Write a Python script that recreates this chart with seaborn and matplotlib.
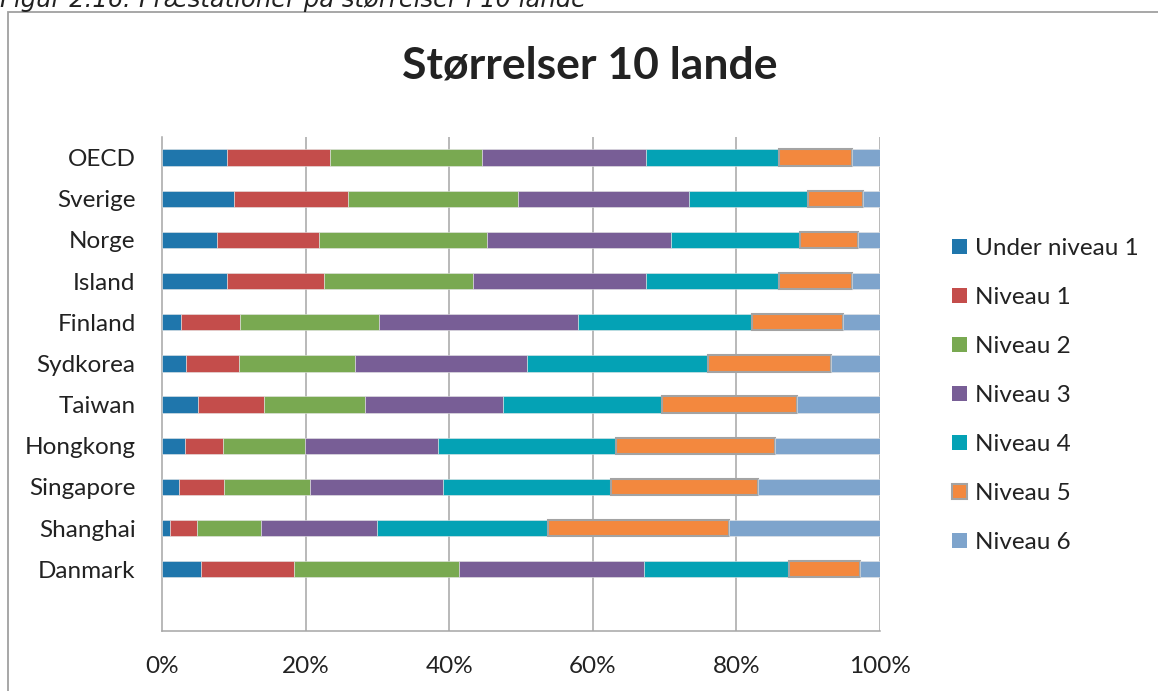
import matplotlib
matplotlib.use("Agg")
import matplotlib.pyplot as plt
from matplotlib.patches import Patch, Rectangle
import numpy as np
import pandas as pd
import seaborn as sns

countries = ["OECD", "Sverige", "Norge", "Island", "Finland", "Sydkorea",
             "Taiwan", "Hongkong", "Singapore", "Shanghai", "Danmark"]
levels = ["Under niveau 1", "Niveau 1", "Niveau 2", "Niveau 3",
          "Niveau 4", "Niveau 5", "Niveau 6"]

under1 = [9.1, 10.1, 7.6, 9.1, 2.7, 3.3, 5.0, 3.2, 2.3, 1.1, 5.4]
niv1 = [14.3, 15.9, 14.3, 13.4, 8.2, 7.4, 9.2, 5.3, 6.4, 3.8, 13.0]
niv2 = [21.2, 23.6, 23.4, 20.8, 19.3, 16.2, 14.1, 11.4, 11.9, 8.9, 23.0]
niv3 = [22.8, 23.9, 25.7, 24.1, 27.8, 23.9, 19.2, 18.6, 18.5, 16.2, 25.9]
niv4 = [18.5, 16.6, 18.0, 18.5, 24.3, 25.2, 22.2, 24.7, 23.4, 23.7, 20.2]
niv5 = [10.2, 7.6, 8.0, 10.2, 12.7, 17.1, 18.7, 22.2, 20.5, 25.3, 9.9]
niv6 = [3.9, 2.4, 3.1, 3.9, 5.1, 6.8, 11.6, 14.6, 17.0, 21.0, 2.8]

x_ticks = [0, 20, 40, 60, 80, 100]
x_tick_labels = ["0%", "20%", "40%", "60%", "80%", "100%"]

title = "Størrelser 10 lande"
caption = "Figur 2.16: Præstationer på størrelser i 10 lande"

colors = ["#1F76AC", "#C44D4B", "#79A951", "#785E96", "#04A2B5", "#F3883E", "#7EA4CC"]

series = [under1, niv1, niv2, niv3, niv4, niv5, niv6]
rows = []
for lvl, vals in zip(levels, series):
    for c, v in zip(countries, vals):
        rows.append({"country": c, "level": lvl, "value": v})
df = pd.DataFrame(rows)
totals = df.groupby("country")["value"].transform("sum")
df["pct"] = df["value"] / totals * 100
df["country"] = pd.Categorical(df["country"], categories=countries, ordered=True)
df = df.sort_values(["level", "country"])
df["left"] = 0.0
for c in countries:
    m = df["country"] == c
    sub = df[m].copy()
    sub["lvl_i"] = sub["level"].map({l: i for i, l in enumerate(levels)})
    sub = sub.sort_values("lvl_i")
    sub["left"] = sub["pct"].cumsum() - sub["pct"]
    df.loc[sub.index, "left"] = sub["left"]

sns.set_theme(style="white")
font_list = ["Lato", "DejaVu Sans"]
plt.rcParams["font.family"] = font_list

fs = 17.5
fig = plt.figure(figsize=(11.58, 6.91), dpi=100)
ax = fig.add_axes([162 / 1158, 1 - 631 / 691, (880 - 162) / 1158, (631 - 137) / 691])

grid_c = "#A6A6A6"
for xv in x_ticks[1:]:
    ax.axvline(xv, color=grid_c, lw=1.1, zorder=0)

for i, lvl in enumerate(levels):
    sub = df[df["level"] == lvl].sort_values("country")
    if lvl == "Niveau 5":
        ec, lw = "#A3A3A3", 1.5
    else:
        ec, lw = "#E6E6E6", 0.4
    sns.barplot(data=sub, x="pct", y="country", order=countries, orient="y",
                left=sub["left"].to_numpy(), color=colors[i], width=0.4,
                edgecolor=ec, linewidth=lw, saturation=1, ax=ax, zorder=3,
                errorbar=None)

ax.set_xlim(0, 100)
ax.set_ylim(len(countries) + 0.5, -0.5)
ax.set_xticks(x_ticks)
ax.set_xticklabels(x_tick_labels, fontsize=fs, color="#222222")
ax.set_yticks(range(len(countries)))
ax.set_yticklabels(countries, fontsize=fs, color="#222222")
ax.set_yticks(np.arange(-0.5, len(countries) + 1, 1), minor=True)
ax.tick_params(axis="y", which="major", length=0, pad=19)
ax.tick_params(axis="y", which="minor", length=7, width=1.1, color=grid_c, direction="out")
ax.tick_params(axis="x", which="major", length=7, width=1.1, color=grid_c, direction="out", pad=11)
ax.set_xlabel("")
ax.set_ylabel("")
for s in ["top", "right"]:
    ax.spines[s].set_visible(False)
for s in ["left", "bottom"]:
    ax.spines[s].set_color(grid_c)
    ax.spines[s].set_linewidth(1.1)

handles = []
for i, lvl in enumerate(levels):
    if lvl == "Niveau 5":
        handles.append(Patch(facecolor=colors[i], edgecolor="#A3A3A3", linewidth=1.5, label=lvl))
    else:
        handles.append(Patch(facecolor=colors[i], edgecolor="none", label=lvl))
leg = fig.legend(handles=handles, loc="center left",
                 bbox_to_anchor=(952 / 1158, 1 - 395.5 / 691),
                 frameon=False, fontsize=fs, handlelength=0.6, handleheight=0.6,
                 handletextpad=0.35, labelspacing=1.15, borderpad=0, borderaxespad=0)
for t in leg.get_texts():
    t.set_color("#222222")

fig.text(590 / 1158, 1 - 65 / 691, title, ha="center", va="center",
         fontsize=32, fontweight="bold", color="#222222")

fig.text(0 / 1158, 1 - 7.5 / 691, caption, ha="left", va="baseline",
         fontsize=17.5, style="italic", family=["DejaVu Sans"], color="#222222")

fig.add_artist(Rectangle((8 / 1158, -0.05), 1.2, 1 - 12 / 691 + 0.05,
                         transform=fig.transFigure, fill=False,
                         edgecolor="#A0A0A0", linewidth=1.3, clip_on=False))

fig.savefig("out.png", dpi=100)
